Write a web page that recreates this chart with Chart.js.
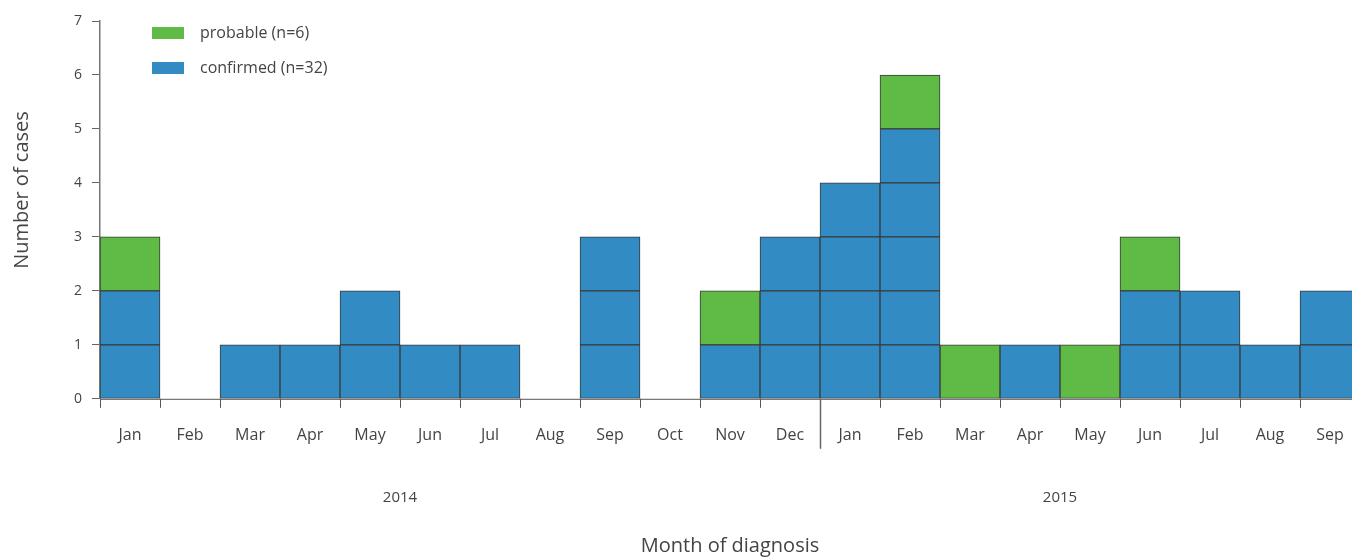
<!DOCTYPE html>
<html>
<head>
<meta charset="utf-8">
<script src="https://cdn.jsdelivr.net/npm/chart.js@4.4.1/dist/chart.umd.min.js"></script>
<style>
    html, body { margin: 0; padding: 0; background: #fff; overflow: hidden; }
    #wrap { width: 1360px; height: 558px; }
</style>
</head>
<body>
<div id="wrap"><canvas id="chart" width="1360" height="558"></canvas></div>
<script>
const months = ['Jan', 'Feb', 'Mar', 'Apr', 'May', 'Jun', 'Jul', 'Aug', 'Sep', 'Oct', 'Nov', 'Dec',
                'Jan', 'Feb', 'Mar', 'Apr', 'May', 'Jun', 'Jul', 'Aug', 'Sep'];
const confirmed = [2, 0, 1, 1, 2, 1, 1, 0, 3, 0, 1, 3, 4, 5, 0, 1, 0, 2, 2, 1, 2];
const probable  = [1, 0, 0, 0, 0, 0, 0, 0, 0, 0, 1, 0, 0, 1, 1, 0, 1, 1, 0, 0, 0];
const years = ['2014', '2015'];
const yearLabelAt = [4.5, 15.5];
const yearSplitAt = 11.5;

const blue = '#338bc3';
const green = '#60ba46';
const edge = '#3a3a3a';
const textColor = '#444';
const font = "'Open Sans', sans-serif";

// one dataset per case level, so every case is drawn as its own cell
const maxConfirmed = Math.max(...confirmed);
const datasets = [];
for (let k = 1; k <= maxConfirmed; k++) {
    datasets.push({
        label: 'confirmed (n=' + confirmed.reduce((a, b) => a + b, 0) + ')',
        data: confirmed.map(c => c >= k ? 1 : null),
        backgroundColor: blue,
        borderColor: edge,
        borderWidth: 1,
        borderSkipped: false,
        stack: 's'
    });
}
datasets.push({
    label: 'probable (n=' + probable.reduce((a, b) => a + b, 0) + ')',
    data: probable.map(p => p >= 1 ? 1 : null),
    backgroundColor: green,
    borderColor: edge,
    borderWidth: 1,
    borderSkipped: false,
    stack: 's'
});

const extras = {
    id: 'extras',
    afterDraw(chart) {
        const ctx = chart.ctx;
        const x = chart.scales.x;
        const y = chart.scales.y;
        ctx.save();
        // legend
        const items = [
            { text: datasets[datasets.length - 1].label, color: green, y: 33 },
            { text: datasets[0].label, color: blue, y: 68 }
        ];
        ctx.font = '16px ' + font;
        ctx.textBaseline = 'middle';
        ctx.textAlign = 'left';
        items.forEach(it => {
            ctx.fillStyle = it.color;
            ctx.fillRect(152, it.y - 6, 32, 12);
            ctx.fillStyle = textColor;
            ctx.fillText(it.text, 200, it.y);
        });
        // x axis line and category tick marks
        const step = x.getPixelForValue(1) - x.getPixelForValue(0);
        ctx.strokeStyle = '#555';
        ctx.lineWidth = 1;
        ctx.beginPath();
        ctx.moveTo(x.left, y.bottom + 0.5);
        ctx.lineTo(x.right, y.bottom + 0.5);
        ctx.stroke();
        for (let i = 0; i <= months.length; i++) {
            const px = Math.round(x.getPixelForValue(i) - step / 2) + 0.5;
            ctx.beginPath();
            ctx.moveTo(px, y.bottom);
            ctx.lineTo(px, y.bottom + 9);
            ctx.stroke();
        }
        // year separator
        const sx = Math.round((x.getPixelForValue(Math.floor(yearSplitAt)) + x.getPixelForValue(Math.ceil(yearSplitAt))) / 2) + 0.5;
        ctx.strokeStyle = '#666';
        ctx.lineWidth = 1.5;
        ctx.beginPath();
        ctx.moveTo(sx, y.bottom);
        ctx.lineTo(sx, y.bottom + 50);
        ctx.stroke();
        // year labels
        ctx.font = '15px ' + font;
        ctx.textAlign = 'center';
        ctx.fillStyle = textColor;
        years.forEach((yr, i) => {
            const a = x.getPixelForValue(Math.floor(yearLabelAt[i]));
            const b = x.getPixelForValue(Math.ceil(yearLabelAt[i]));
            ctx.fillText(yr, (a + b) / 2, y.bottom + 99);
        });
        // y axis title, sits a little above the middle of the axis
        ctx.translate(22, 190);
        ctx.rotate(-Math.PI / 2);
        ctx.font = '20px ' + font;
        ctx.fillText('Number of cases', 0, 0);
        ctx.restore();
    }
};

new Chart(document.getElementById('chart'), {
    type: 'bar',
    data: { labels: months, datasets: datasets },
    options: {
        responsive: false,
        animation: false,
        layout: { padding: { top: 21, right: 0, left: 64, bottom: 0 } },
        datasets: { bar: { barPercentage: 1, categoryPercentage: 1 } },
        plugins: {
            legend: { display: false },
            tooltip: { enabled: false }
        },
        scales: {
            x: {
                stacked: true,
                grid: { display: true, drawOnChartArea: false, drawTicks: true, tickLength: 27, color: 'rgba(0,0,0,0)' },
                border: { display: false },
                ticks: { color: textColor, font: { family: font, size: 16 }, padding: 0, maxRotation: 0, autoSkip: false },
                title: { display: true, text: 'Month of diagnosis', color: textColor, font: { family: font, size: 20 }, padding: { top: 89, bottom: 0 } }
            },
            y: {
                stacked: true,
                min: 0,
                max: 7,
                grid: { drawOnChartArea: false, drawTicks: true, tickLength: 8, color: '#666' },
                border: { color: '#777', width: 1.5 },
                ticks: { stepSize: 1, color: textColor, font: { family: font, size: 14 }, padding: 10 },
                title: { display: false }
            }
        }
    },
    plugins: [extras]
});
</script>
</body>
</html>
